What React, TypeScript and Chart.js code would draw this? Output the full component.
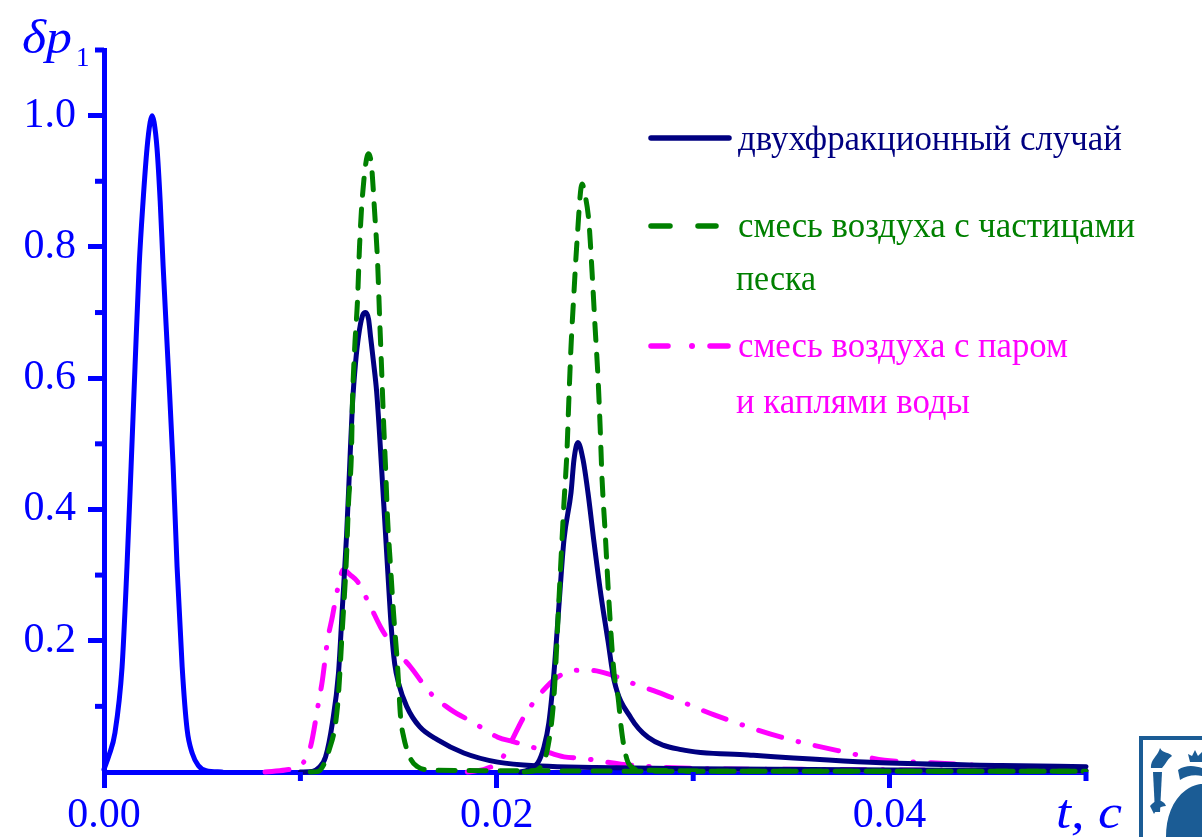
import React, { useEffect, useRef } from 'react';
import { Chart, registerables } from 'chart.js';

Chart.register(...registerables);

const W = 1202;
const H = 837;
const FONT = "'Liberation Serif', 'Times New Roman', Times, serif";
const AXIS = '#0000FF';
const NAVY = '#000080';
const GREEN = '#008000';
const PINK = '#FF00FF';

// initial pulse
const pulseT = [0, 0.00025, 0.00056, 0.00092, 0.00117, 0.00138, 0.00158, 0.00179, 0.00199, 0.00219, 0.00235, 0.00245, 0.00255, 0.0027, 0.00286, 0.00301, 0.00327, 0.00352, 0.00372, 0.00398, 0.00423, 0.0045, 0.0048, 0.0052, 0.006];
const pulseV = [0.004, 0.025, 0.06, 0.16, 0.313, 0.466, 0.618, 0.771, 0.87, 0.95, 0.99, 1.0, 0.99, 0.95, 0.87, 0.771, 0.618, 0.466, 0.313, 0.16, 0.065, 0.028, 0.01, 0.002, 0];

// two-fraction case, first and second pulse
const twoFracT1 = [0.01, 0.01061, 0.01092, 0.01128, 0.01163, 0.01194, 0.01214, 0.01235, 0.0125, 0.01265, 0.01281, 0.01296, 0.01316, 0.01332, 0.01347, 0.01357, 0.01372, 0.01388, 0.01403, 0.01418, 0.01434, 0.01449, 0.01464, 0.0148, 0.015, 0.01541, 0.01607, 0.01699, 0.01832, 0.02005, 0.02224, 0.025, 0.03, 0.04, 0.05];
const twoFracV1 = [0, 0.001, 0.006, 0.023, 0.075, 0.151, 0.252, 0.36, 0.46, 0.56, 0.624, 0.664, 0.695, 0.70, 0.69, 0.664, 0.625, 0.58, 0.515, 0.44, 0.36, 0.285, 0.215, 0.165, 0.135, 0.10, 0.069, 0.049, 0.029, 0.015, 0.009, 0.007, 0.005, 0.003, 0.002];
const twoFracT2 = [0.0212, 0.02158, 0.02209, 0.0224, 0.02265, 0.02291, 0.02316, 0.02342, 0.02378, 0.02393, 0.02413, 0.02439, 0.02464, 0.02495, 0.0253, 0.02566, 0.02597, 0.02684, 0.0277, 0.02939, 0.03281, 0.03959, 0.04571, 0.05];
const twoFracV2 = [0, 0.003, 0.014, 0.038, 0.075, 0.151, 0.252, 0.354, 0.426, 0.476, 0.502, 0.476, 0.426, 0.35, 0.27, 0.2, 0.14, 0.082, 0.053, 0.034, 0.026, 0.014, 0.01, 0.008];

// air + sand particles
const sandT1 = [0.0105, 0.01092, 0.01117, 0.01143, 0.01189, 0.01214, 0.01235, 0.01245, 0.0126, 0.01265, 0.01276, 0.01291, 0.01301, 0.01316, 0.01347, 0.01362, 0.01378, 0.01393, 0.01403, 0.01413, 0.01423, 0.01434, 0.01444, 0.01459, 0.01474, 0.01495, 0.0151, 0.01526, 0.01561, 0.01597, 0.01663, 0.02, 0.03, 0.05];
const sandV1 = [0, 0.001, 0.01, 0.03, 0.10, 0.22, 0.33, 0.41, 0.487, 0.563, 0.644, 0.72, 0.80, 0.878, 0.942, 0.924, 0.853, 0.777, 0.695, 0.618, 0.537, 0.461, 0.385, 0.313, 0.243, 0.16, 0.084, 0.053, 0.02, 0.008, 0.003, 0.002, 0.001, 0.001];
const sandT2 = [0.0214, 0.02173, 0.02224, 0.0226, 0.02291, 0.02316, 0.02342, 0.02357, 0.02367, 0.02378, 0.02393, 0.02408, 0.02434, 0.02449, 0.02469, 0.02485, 0.025, 0.02515, 0.02526, 0.02536, 0.02551, 0.02571, 0.02597, 0.02617, 0.02633, 0.02648, 0.02673, 0.02735, 0.035, 0.05];
const sandV2 = [0, 0.001, 0.008, 0.038, 0.115, 0.26, 0.41, 0.487, 0.568, 0.649, 0.731, 0.807, 0.896, 0.88, 0.838, 0.762, 0.68, 0.603, 0.527, 0.446, 0.369, 0.26, 0.151, 0.115, 0.069, 0.038, 0.012, 0.003, 0.001, 0.001];

// air + steam + water droplets
const steamT1 = [0.0082, 0.00923, 0.01, 0.01051, 0.01092, 0.01112, 0.01138, 0.01163, 0.01189, 0.01219, 0.01255, 0.01291, 0.01357, 0.01408, 0.01474, 0.01561, 0.01663, 0.01765, 0.01883, 0.02005, 0.02087, 0.02224, 0.02342, 0.02429, 0.02633, 0.02939, 0.03551, 0.05];
const steamV1 = [0, 0.003, 0.01, 0.038, 0.105, 0.14, 0.2, 0.237, 0.278, 0.308, 0.30, 0.29, 0.252, 0.221, 0.19, 0.16, 0.12, 0.095, 0.075, 0.053, 0.046, 0.034, 0.023, 0.021, 0.012, 0.006, 0.004, 0.002];
const steamT2 = [0.0185, 0.01944, 0.0202, 0.02071, 0.02138, 0.02224, 0.02311, 0.02413, 0.0248, 0.02582, 0.02684, 0.02852, 0.03107, 0.03449, 0.03791, 0.03974, 0.04148, 0.04281, 0.04571, 0.05];
const steamV2 = [0, 0.005, 0.018, 0.045, 0.084, 0.12, 0.145, 0.155, 0.155, 0.148, 0.136, 0.118, 0.087, 0.053, 0.029, 0.018, 0.015, 0.013, 0.008, 0.005];

const legendLabels = ['двухфракционный случай', 'смесь воздуха с частицами', 'песка', 'смесь воздуха с паром', 'и каплями воды'];
const xMajorLabels = ['0.00', '0.02', '0.04'];

const pts = (t: number[], v: number[]) => t.map((x, i) => ({ x, y: v[i] }));

const minorTicks = {
  id: 'minorTicks',
  afterDraw(chart: any) {
    const { ctx } = chart;
    const xs = chart.scales.x;
    const ys = chart.scales.y;
    ctx.save();
    ctx.strokeStyle = AXIS;
    ctx.lineWidth = 5;
    ctx.lineCap = 'butt';
    xs.ticks.forEach((t: any) => {
      const k = Math.round(t.value * 100);
      if (k % 2 === 1) {
        const px = xs.getPixelForValue(t.value);
        ctx.beginPath();
        ctx.moveTo(px, ys.bottom);
        ctx.lineTo(px, ys.bottom + 9);
        ctx.stroke();
      }
    });
    ys.ticks.forEach((t: any) => {
      const k = Math.round(t.value * 10);
      if (k % 2 === 1) {
        const py = ys.getPixelForValue(t.value);
        ctx.beginPath();
        ctx.moveTo(xs.left, py);
        ctx.lineTo(xs.left - 9, py);
        ctx.stroke();
      }
    });
    ctx.restore();
  },
};

const base = {
  pointRadius: 0,
  borderWidth: 5,
  fill: false,
  cubicInterpolationMode: 'monotone' as const,
  clip: false as any,
  borderCapStyle: 'round' as const,
  borderJoinStyle: 'round' as const,
};

export default function App() {
  const ref = useRef<HTMLCanvasElement | null>(null);
  useEffect(() => {
    if (!ref.current) return;
    const chart = new Chart(ref.current, {
      type: 'line',
      data: {
        datasets: [
          { ...base, label: 'pulse', data: pts(pulseT, pulseV), borderColor: AXIS, order: 0 },
          { ...base, label: legendLabels[1], data: pts(sandT1, sandV1), borderColor: GREEN, borderDash: [17, 14], order: 1 },
          { ...base, label: legendLabels[1] + ' 2', data: pts(sandT2, sandV2), borderColor: GREEN, borderDash: [17, 14], order: 1 },
          { ...base, label: legendLabels[0], data: pts(twoFracT1, twoFracV1), borderColor: NAVY, order: 2 },
          { ...base, label: legendLabels[0] + ' 2', data: pts(twoFracT2, twoFracV2), borderColor: NAVY, order: 2 },
          { ...base, label: legendLabels[3], data: pts(steamT1, steamV1), borderColor: PINK, borderDash: [24, 17, 0.5, 17], order: 3 },
          { ...base, label: legendLabels[3] + ' 2', data: pts(steamT2, steamV2), borderColor: PINK, borderDash: [24, 17, 0.5, 17], order: 3 },
        ],
      },
      options: {
        responsive: false,
        animation: false,
        devicePixelRatio: 1,
        layout: { padding: { top: 50, right: 116, left: 0, bottom: 0 } },
        plugins: { legend: { display: false }, tooltip: { enabled: false }, title: { display: false } },
        scales: {
          x: {
            type: 'linear',
            min: 0,
            max: 0.05,
            afterFit: (s: any) => { s.height = 65; },
            ticks: {
              stepSize: 0.01,
              autoSkip: false,
              maxRotation: 0,
              padding: 3,
              color: AXIS,
              font: { family: FONT, size: 42 },
              callback: (v: any) => {
                const k = Math.round(Number(v) * 100);
                return k % 2 === 0 ? xMajorLabels[k / 2] ?? '' : '';
              },
            },
            grid: {
              display: true,
              drawOnChartArea: false,
              drawTicks: true,
              tickLength: 16,
              tickWidth: 5,
              tickColor: (c: any) => (Math.round(c.tick.value * 100) % 2 === 0 ? AXIS : 'rgba(0,0,0,0)'),
            },
            border: { display: true, color: AXIS, width: 5 },
          },
          y: {
            type: 'linear',
            min: 0,
            max: 1.1,
            afterFit: (s: any) => { s.width = 104; },
            ticks: {
              stepSize: 0.1,
              autoSkip: false,
              padding: 12,
              color: AXIS,
              font: { family: FONT, size: 42 },
              callback: (v: any) => {
                const k = Math.round(Number(v) * 10);
                return k > 0 && k % 2 === 0 ? (k / 10).toFixed(1) : '';
              },
            },
            grid: {
              display: true,
              drawOnChartArea: false,
              drawTicks: true,
              tickLength: 16,
              tickWidth: 5,
              tickColor: (c: any) => {
                const k = Math.round(c.tick.value * 10);
                return k > 0 && k % 2 === 0 ? AXIS : 'rgba(0,0,0,0)';
              },
            },
            border: { display: true, color: AXIS, width: 5 },
          },
        },
      },
      plugins: [minorTicks],
    });
    return () => chart.destroy();
  }, []);

  return (
    <div style={{ position: 'absolute', left: 0, top: 0, width: W, height: H, background: '#fff', overflow: 'hidden' }}>
      <canvas ref={ref} width={W} height={H} style={{ position: 'absolute', left: 0, top: 0, width: W, height: H }} />
      <svg width={W} height={H} style={{ position: 'absolute', left: 0, top: 0 }}>
        {/* legend samples */}
        <line x1={651} y1={138} x2={729} y2={138} stroke={NAVY} strokeWidth={5.5} strokeLinecap="round" />
        <line x1={651} y1={226} x2={670} y2={226} stroke={GREEN} strokeWidth={5.5} strokeLinecap="round" />
        <line x1={698} y1={226} x2={716} y2={226} stroke={GREEN} strokeWidth={5.5} strokeLinecap="round" />
        <line x1={651} y1={346} x2={668} y2={346} stroke={PINK} strokeWidth={5.5} strokeLinecap="round" />
        <circle cx={692} cy={346} r={3} fill={PINK} />
        <line x1={710} y1={346} x2={728} y2={346} stroke={PINK} strokeWidth={5.5} strokeLinecap="round" />
        <g fontFamily={FONT} fontSize={36}>
          <text x={738} y={150} fill={NAVY} textLength={384} lengthAdjust="spacingAndGlyphs">{legendLabels[0]}</text>
          <text x={738} y={237} fill={GREEN} textLength={397} lengthAdjust="spacingAndGlyphs">{legendLabels[1]}</text>
          <text x={736} y={290} fill={GREEN} textLength={80} lengthAdjust="spacingAndGlyphs">{legendLabels[2]}</text>
          <text x={738} y={357} fill={PINK} textLength={330} lengthAdjust="spacingAndGlyphs">{legendLabels[3]}</text>
          <text x={736} y={413} fill={PINK} textLength={234} lengthAdjust="spacingAndGlyphs">{legendLabels[4]}</text>
        </g>
        {/* axis titles */}
        <text x={22} y={53} fill={AXIS} fontFamily={FONT} fontStyle="italic" fontSize={48} textLength={50} lengthAdjust="spacingAndGlyphs">δp</text>
        <text x={76} y={66} fill={AXIS} fontFamily={FONT} fontSize={27}>1</text>
        <text x={1056} y={828} fill={AXIS} fontFamily={FONT} fontStyle="italic" fontSize={48} textLength={66} lengthAdjust="spacingAndGlyphs">t, c</text>
        {/* emblem */}
        <g>
          <rect x={1141} y={738} width={70} height={110} fill="#fff" stroke="#1b5c95" strokeWidth={4} />
          <path d="M1153 772 L1162 772 L1160 812 L1155 812 Z" fill="#1b5c95" />
          <path d="M1151 768 C1150 760 1158 756 1160 748 C1163 754 1170 752 1172 756 C1168 758 1166 764 1162 768 Z" fill="#1b5c95" />
          <path d="M1188 754 L1190 762 L1202 762 L1202 752 L1198 756 L1195 750 L1192 756 Z" fill="#1b5c95" />
          <path d="M1178 770 C1186 764 1196 766 1202 768 L1202 776 C1194 774 1186 776 1180 780 Z" fill="#1b5c95" />
          <path d="M1166 837 C1166 818 1172 800 1186 790 C1194 784 1202 784 1202 784 L1202 837 Z" fill="#1b5c95" />
          <path d="M1150 806 C1156 798 1164 800 1166 806 C1160 806 1156 810 1154 814 Z" fill="#1b5c95" />
        </g>
      </svg>
    </div>
  );
}
